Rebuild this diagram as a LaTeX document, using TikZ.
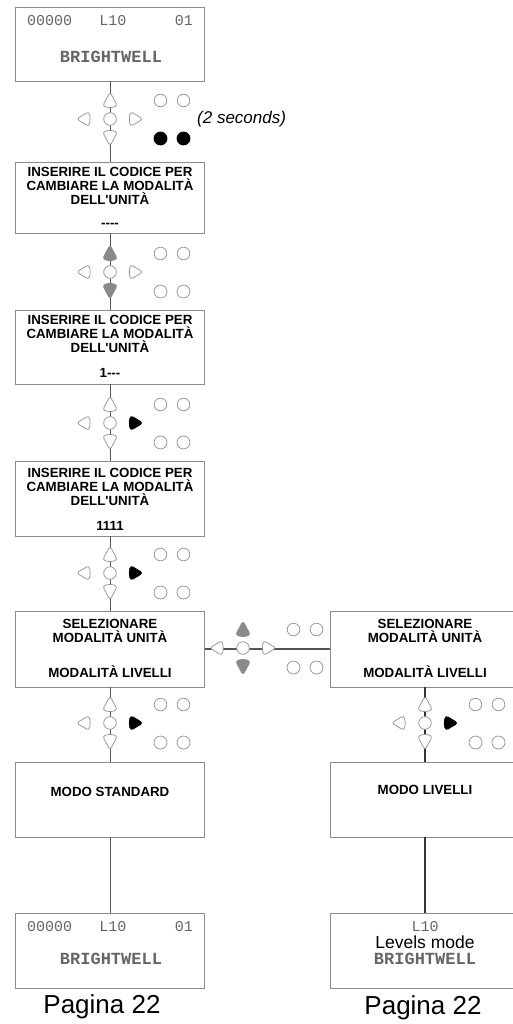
\documentclass[tikz,border=0pt]{standalone}
\usepackage{fontspec}
\setmainfont{Liberation Sans}[Ligatures=TeXOff]
\newfontfamily\monofont{Liberation Mono}
\definecolor{boxc}{HTML}{8C8C8C}
\definecolor{linec}{HTML}{555555}
\definecolor{keyc}{HTML}{9A9A9A}
\definecolor{monoc}{HTML}{666666}
\definecolor{greyk}{HTML}{8A8A8A}
\tikzset{
  box/.style={draw=boxc, line width=0.9pt, fill=white, minimum width=189pt, inner sep=0pt},
  btxt/.style={font=\fontsize{13.3}{13.8}\selectfont\bfseries, align=center, inner sep=0pt},
  mtxt/.style={font=\fontsize{15}{15}\selectfont\monofont, text=monoc, inner sep=0pt},
  mbtxt/.style={font=\fontsize{17}{17}\selectfont\monofont\bfseries, text=monoc, inner sep=0pt},
  conn/.style={draw=linec, line width=1pt},
  connthick/.style={draw=black!80, line width=2pt},
  kw/.style={draw=keyc, fill=white, line width=0.8pt},
  kg/.style={draw=greyk, fill=greyk, line width=0.8pt},
  kb/.style={draw=black, fill=black, line width=0.8pt},
}
% x, y, up, down, left, right, bottom circles
\newcommand\kpad[7]{%
  \begin{scope}[shift={(#1,#2)}, rounded corners=3pt]
    \path[#3] (0,-27) -- (7.5,-13) -- (0,-11) -- (-7.5,-13) -- cycle;
    \path[#4] (0,27) -- (7.5,13) -- (0,11) -- (-7.5,13) -- cycle;
    \path[#5] (-33.5,0) -- (-21,-7.5) -- (-19.5,0) -- (-21,7.5) -- cycle;
    \path[#6] (33,0) -- (20.5,-7.5) -- (19,0) -- (20.5,7.5) -- cycle;
  \end{scope}
  \begin{scope}[shift={(#1,#2)}]
    \path[kw] (0,0) circle (6.3);
    \path[kw] (50.5,-18.5) circle (6.3);
    \path[kw] (73.5,-18.5) circle (6.3);
    \path[#7] (50.5,19.5) circle (6.5);
    \path[#7] (73.5,19.5) circle (6.5);
  \end{scope}}
\begin{document}
\begin{tikzpicture}[x=1pt,y=-1pt]
\useasboundingbox (0,0) rectangle (513,1024);
\clip (0,0) rectangle (513,1024);
% boxes
\node[box, minimum height=74pt] (b1) at (110,44) {};
\node[box, minimum height=71pt] (b2) at (110,197.5) {};
\node[box, minimum height=74pt] (b3) at (110,347) {};
\node[box, minimum height=75pt] (b4) at (110,498.5) {};
\node[box, minimum height=76pt] (b5) at (110,649) {};
\node[box, minimum height=76pt, minimum width=190pt] (b6) at (425,649) {};
\node[box, minimum height=75pt] (b7) at (110,799.5) {};
\node[box, minimum height=75pt, minimum width=190pt] (b8) at (425,799.5) {};
\node[box, minimum height=75pt] (b9) at (110,950.5) {};
\node[box, minimum height=75pt, minimum width=190pt] (b10) at (425,950.5) {};
% connectors
\draw[conn] (b1.south) -- (b2.north);
\draw[conn] (b2.south) -- (b3.north);
\draw[conn] (b3.south) -- (b4.north);
\draw[conn] (b4.south) -- (b5.north);
\draw[conn] (b5.south) -- (b7.north);
\draw[conn] (b7.south) -- (b9.north);
\draw[conn, line width=1.4pt] (b5.east) -- (b6.west);
\draw[connthick] (b6.south) -- (b8.north);
\draw[connthick] (b8.south) -- (b10.north);
% keypads
\kpad{110}{119}{kw}{kw}{kw}{kw}{kb}
\kpad{110}{272}{kg}{kg}{kw}{kw}{kw}
\kpad{110}{423}{kw}{kw}{kw}{kb}{kw}
\kpad{110}{573}{kw}{kw}{kw}{kb}{kw}
\kpad{243}{648}{kg}{kg}{kw}{kw}{kw}
\kpad{110}{723}{kw}{kw}{kw}{kb}{kw}
\kpad{425}{723}{kw}{kw}{kw}{kb}{kw}
\node[anchor=west, inner sep=0pt, font=\fontsize{17}{17}\selectfont\itshape] (sec) at (197,119) {(2 seconds)};
% texts box 1
\node[mtxt, anchor=west] (t1a) at (27,21) {00000};
\node[mtxt] (t1b) at (113,21) {L10};
\node[mtxt, anchor=east] (t1c) at (193,21) {01};
\node[mbtxt] (t1d) at (111,57) {BRIGHTWELL};
% box 2-4
\node[btxt] (t2) at (110,186) {INSERIRE IL CODICE PER\\CAMBIARE LA MODALITÀ\\DELL'UNITÀ};
\node[btxt] (t2b) at (110,225) {----};
\node[btxt] (t3) at (110,334) {INSERIRE IL CODICE PER\\CAMBIARE LA MODALITÀ\\DELL'UNITÀ};
\node[btxt] (t3b) at (110,373) {1---};
\node[btxt] (t4) at (110,487) {INSERIRE IL CODICE PER\\CAMBIARE LA MODALITÀ\\DELL'UNITÀ};
\node[btxt] (t4b) at (110,526) {1111};
% box 5,6
\node[btxt] (t5) at (110,631) {SELEZIONARE\\MODALITÀ UNITÀ};
\node[btxt] (t5b) at (110,672) {MODALITÀ LIVELLI};
\node[btxt] (t6) at (425,631) {SELEZIONARE\\MODALITÀ UNITÀ};
\node[btxt] (t6b) at (425,672) {MODALITÀ LIVELLI};
% box 7,8
\node[btxt] (t7) at (110,792) {MODO STANDARD};
\node[btxt] (t8) at (425,790) {MODO LIVELLI};
% box 9
\node[mtxt, anchor=west] (t9a) at (27,927) {00000};
\node[mtxt] (t9b) at (113,927) {L10};
\node[mtxt, anchor=east] (t9c) at (193,927) {01};
\node[mbtxt] (t9d) at (111,959) {BRIGHTWELL};
% box 10
\node[mtxt] (t10a) at (425,927) {L10};
\node[inner sep=0pt, font=\fontsize{17.5}{17.5}\selectfont] (t10b) at (425,942) {Levels mode};
\node[mbtxt] (t10c) at (425,959) {BRIGHTWELL};
% page labels
\node[inner sep=0pt, font=\fontsize{26}{26}\selectfont] (p1) at (102,1007) {Pagina 22};
\node[inner sep=0pt, font=\fontsize{26}{26}\selectfont] (p2) at (423,1008) {Pagina 22};
\end{tikzpicture}
\end{document}
